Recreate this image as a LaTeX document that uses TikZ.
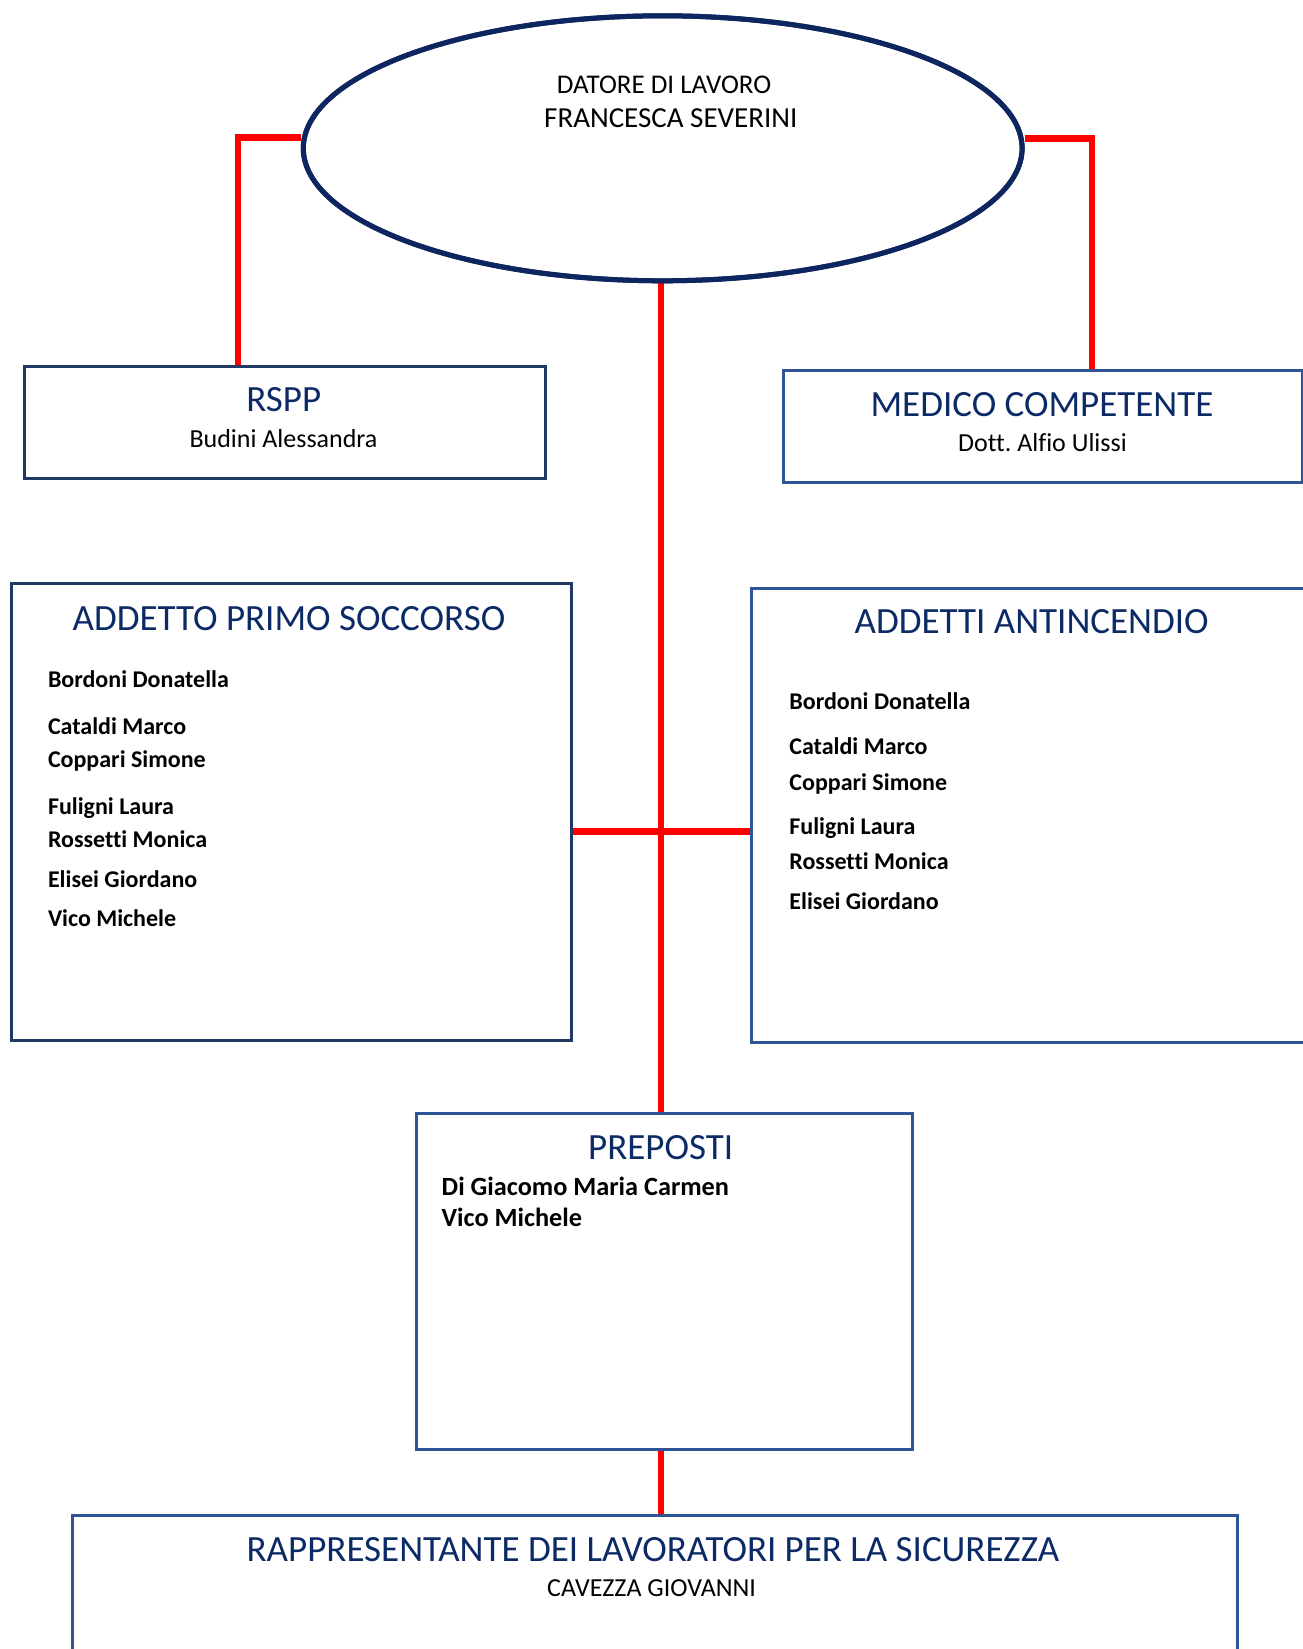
\documentclass[tikz,border=0pt]{standalone}
\usepackage{fontspec}
\setmainfont[Ligatures=NoCommon]{Carlito}
\newfontfamily\carl[Ligatures=NoCommon]{Carlito}
\usetikzlibrary{shapes.geometric}
\definecolor{titleblue}{HTML}{0B2A66}
\definecolor{ellblue}{HTML}{0E2660}
\definecolor{darkborder}{HTML}{203864}
\definecolor{medborder}{HTML}{2F5597}
\definecolor{linkred}{HTML}{FF0000}
\tikzset{
  boxshape/.style={draw, rectangle, line width=3pt, inner sep=0pt, anchor=north west, fill=white},
  darkbox/.style={boxshape, draw=darkborder},
  medbox/.style={boxshape, draw=medborder},
  titletext/.style={font=\carl\fontsize{37}{44}\selectfont, text=titleblue, inner sep=0pt, anchor=base},
  nametext/.style={font=\carl\fontsize{26}{31}\selectfont, text=black, inner sep=0pt, anchor=base},
  listtext/.style={font=\carl\bfseries\fontsize{24}{29}\selectfont, text=black, inner sep=0pt, anchor=base west},
  preptext/.style={font=\carl\bfseries\fontsize{26.3}{31}\selectfont, text=black, inner sep=0pt, anchor=base west},
  datoretext/.style={font=\carl\fontsize{27}{32}\selectfont, text=black, inner sep=0pt, anchor=base west},
  redv/.style={draw=linkred, line width=6pt},
  redh/.style={draw=linkred, line width=7pt},
}
\frenchspacing
\begin{document}
\frenchspacing
\begin{tikzpicture}[x=1pt,y=-1pt]
\useasboundingbox (0,0) rectangle (1303,1649);
\fill[white] (0,0) rectangle (1303,1649);

\coordinate (lj) at (237.5,137);
\coordinate (rj) at (1092.3,138.3);
\coordinate (cy) at (661,831.5);

% shapes
\node[ellipse, draw=ellblue, line width=5pt, minimum width=718.8pt, minimum height=265pt, inner sep=0pt, fill=white] (ell) at (662.7,148.3) {};
\node[darkbox, minimum width=521.5pt, minimum height=112.6pt] (rspp) at (22.7,364.7) {};
\node[medbox, minimum width=519.3pt, minimum height=112pt] (medico) at (781.7,369) {};
\node[darkbox, minimum width=560pt, minimum height=457.6pt] (aps) at (9.5,581.7) {};
\node[medbox, minimum width=570pt, minimum height=454.2pt] (aai) at (750.4,587) {};
\node[medbox, minimum width=495.9pt, minimum height=336.3pt] (prep) at (414.7,1112) {};
\node[medbox, minimum width=1165pt, minimum height=200pt] (rls) at (70.6,1514) {};

% connectors
\draw[redv] (lj) -- (lj |- rspp.north);
\draw[redh] ([xshift=-3pt]lj) -- (lj -| ell.west);
\draw[redv] (rj) -- (rj |- medico.north);
\draw[redh] ([xshift=3pt]rj) -- (rj -| ell.east);
\draw[redv] (cy |- ell.south) -- (cy |- prep.north);
\draw[redh] (aps.east |- cy) -- (aai.west |- cy);
\draw[redv] (cy |- prep.south) -- (cy |- rls.north);
% ellipse border drawn again over the connector ends
\node[ellipse, draw=ellblue, line width=5pt, minimum width=718.8pt, minimum height=265pt, inner sep=0pt] (ellb) at (ell) {};

% texts
\node[datoretext] (dat1) at (556.7,93.3) {DATORE DI LAVORO};
\node[datoretext, font=\carl\fontsize{29}{34}\selectfont] (dat2) at (544,127.7) {FRANCESCA SEVERINI};

\node[titletext] (rsppt) at (283.8,411.7) {RSPP};
\node[nametext] (rsppn) at (283.5,447.3) {Budini Alessandra};

\node[titletext] (medt) at (1042,416.7) {MEDICO COMPETENTE};
\node[nametext] (medn) at (1042.5,451.7) {Dott.\ Alfio Ulissi};

\node[titletext] (apst) at (289,630) {ADDETTO PRIMO SOCCORSO};
\node[listtext] (aps1) at (47.8,687.7) {Bordoni Donatella};
\node[listtext] (aps2) at (47.8,734) {Cataldi Marco};
\node[listtext] (aps3) at (47.8,767.7) {Coppari Simone};
\node[listtext] (aps4) at (47.8,814) {Fuligni Laura};
\node[listtext] (aps5) at (47.8,847.7) {Rossetti Monica};
\node[listtext] (aps6) at (47.8,887.7) {Elisei Giordano};
\node[listtext] (aps7) at (47.8,926) {Vico Michele};

\node[titletext] (aait) at (1031.7,633.8) {ADDETTI ANTINCENDIO};
\node[listtext] (aai1) at (789.2,709.6) {Bordoni Donatella};
\node[listtext] (aai2) at (789.2,754.6) {Cataldi Marco};
\node[listtext] (aai3) at (789.2,790) {Coppari Simone};
\node[listtext] (aai4) at (789.2,834.5) {Fuligni Laura};
\node[listtext] (aai5) at (789.2,869.4) {Rossetti Monica};
\node[listtext] (aai6) at (789.2,909.3) {Elisei Giordano};

\node[titletext] (prept) at (660.7,1159.3) {PREPOSTI};
\node[preptext] (prep1) at (441.5,1195) {Di Giacomo Maria Carmen};
\node[preptext] (prep2) at (441.5,1226.7) {Vico Michele};

\node[titletext] (rlst) at (653,1561.7) {RAPPRESENTANTE DEI LAVORATORI PER LA SICUREZZA};
\node[font=\carl\fontsize{26}{31}\selectfont, text=black, inner sep=0pt, anchor=base] (rlsn) at (651.6,1596.7) {CAVEZZA GIOVANNI};
\end{tikzpicture}
\end{document}
